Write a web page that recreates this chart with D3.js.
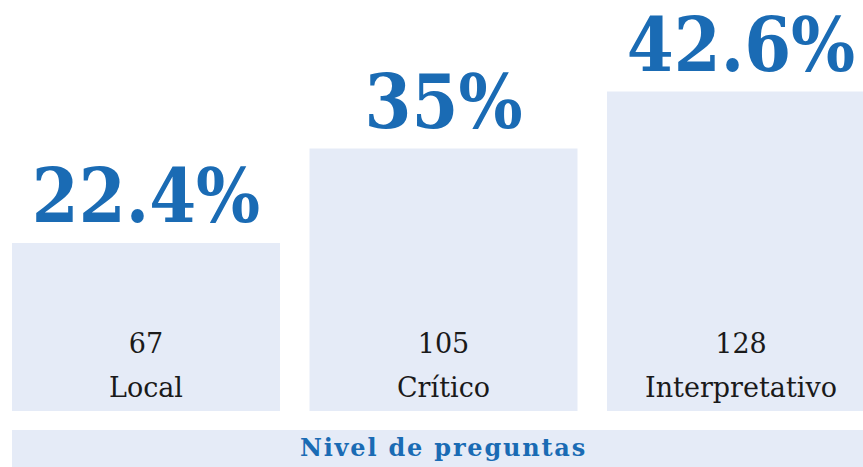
<!DOCTYPE html>
<html>
<head>
<meta charset="utf-8">
<script src="https://cdn.jsdelivr.net/npm/d3@7"></script>
<style>
  body { margin: 0; background: #fff; overflow: hidden; }
  svg { display: block; }
</style>
</head>
<body>
<div id="chart"></div>
<script>
// data
var categories = ["Local", "Crítico", "Interpretativo"];
var counts = [67, 105, 128];
var percents = [22.4, 35, 42.6];
var axisTitle = "Nivel de preguntas";

var width = 863, height = 467;
var blue = "#1a6bb4", barFill = "#e5ebf7";

var svg = d3.select("#chart").append("svg")
  .attr("width", width)
  .attr("height", height);

// the last bar runs past the right edge in the original, so the range does too
var x = d3.scaleBand()
  .domain(categories)
  .range([12, 875])
  .paddingInner(0.0992)
  .paddingOuter(0);

var y = d3.scaleLinear()
  .domain([0, 42.6])
  .range([411, 91.5]);

var data = categories.map(function(c, i) {
  return {cat: c, count: counts[i], pct: percents[i]};
});

var bars = svg.selectAll(".bar").data(data).enter().append("g")
  .attr("class", "bar");

bars.append("rect")
  .attr("x", function(d) { return x(d.cat); })
  .attr("y", function(d) { return y(d.pct); })
  .attr("width", x.bandwidth())
  .attr("height", function(d) { return y(0) - y(d.pct); })
  .attr("fill", barFill);

// big percentage above each bar
bars.append("text")
  .attr("x", function(d) { return x(d.cat) + x.bandwidth() / 2; })
  .attr("y", function(d) { return y(d.pct) - 21; })
  .attr("text-anchor", "middle")
  .style("font-family", "'DejaVu Serif Condensed', 'DejaVu Serif', serif")
  .style("font-stretch", "condensed")
  .style("font-weight", "bold")
  .style("font-size", "75px")
  .attr("fill", blue)
  .text(function(d) { return d.pct + "%"; });

// count and category inside the bar
bars.append("text")
  .attr("x", function(d) { return x(d.cat) + x.bandwidth() / 2; })
  .attr("y", y(0) - 58)
  .attr("text-anchor", "middle")
  .style("font-family", "'DejaVu Serif', serif")
  .style("font-size", "27px")
  .attr("fill", "#1a1a1a")
  .text(function(d) { return d.count; });

bars.append("text")
  .attr("x", function(d) { return x(d.cat) + x.bandwidth() / 2; })
  .attr("y", y(0) - 14)
  .attr("text-anchor", "middle")
  .style("font-family", "'DejaVu Serif', serif")
  .style("font-size", "27px")
  .attr("fill", "#1a1a1a")
  .text(function(d) { return d.cat; });

// axis title band
var range = x.range();
svg.append("rect")
  .attr("x", range[0])
  .attr("y", 430)
  .attr("width", range[1] - range[0])
  .attr("height", 45)
  .attr("fill", barFill);

svg.append("text")
  .attr("x", (range[0] + range[1]) / 2)
  .attr("y", 456)
  .attr("text-anchor", "middle")
  .style("font-family", "'DejaVu Serif', serif")
  .style("font-weight", "bold")
  .style("font-size", "24px")
  .style("letter-spacing", "1.8px")
  .attr("fill", blue)
  .text(axisTitle);
</script>
</body>
</html>
